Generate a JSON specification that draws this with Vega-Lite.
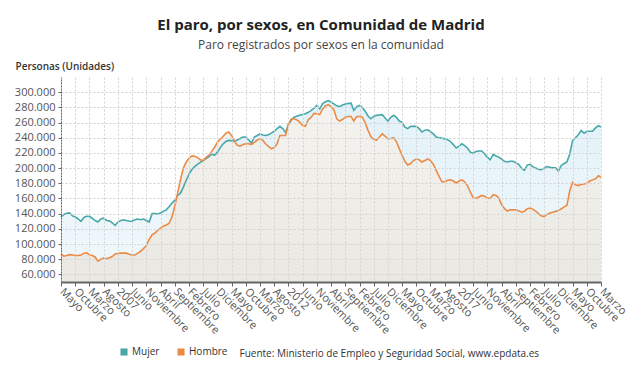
{
"$schema": "https://vega.github.io/schema/vega-lite/v6.json",
"width": 540, "height": 205,
"autosize": {"type": "none"},
"padding": {"left": 61, "top": 77, "right": 39, "bottom": 94},
"background": "white",
"title": {"text": "El paro, por sexos, en Comunidad de Madrid", "subtitle": "Paro registrados por sexos en la comunidad", "anchor": "middle", "frame": "group", "font": "Open Sans", "fontSize": 15, "fontWeight": "bold", "color": "#222222", "subtitleFont": "Open Sans", "subtitleFontSize": 12, "subtitleColor": "#444444", "subtitlePadding": 7, "offset": 10, "dx": -10},
"config": {"view": {"stroke": null}, "font": "Open Sans", "axis": {"labelFont": "Open Sans", "titleFont": "Open Sans"}, "legend": {"labelFont": "Open Sans"}},
"data": {"values": [
{"fecha":"2005-05","Mujer":135500,"Hombre":87000},
{"fecha":"2005-06","Mujer":139000,"Hombre":84000},
{"fecha":"2005-07","Mujer":140500,"Hombre":85000},
{"fecha":"2005-08","Mujer":141000,"Hombre":86000},
{"fecha":"2005-09","Mujer":137000,"Hombre":85500},
{"fecha":"2005-10","Mujer":135500,"Hombre":85000},
{"fecha":"2005-11","Mujer":133000,"Hombre":85000},
{"fecha":"2005-12","Mujer":130000,"Hombre":85500},
{"fecha":"2006-01","Mujer":135000,"Hombre":88000},
{"fecha":"2006-02","Mujer":136500,"Hombre":88500},
{"fecha":"2006-03","Mujer":136500,"Hombre":86000},
{"fecha":"2006-04","Mujer":134000,"Hombre":85000},
{"fecha":"2006-05","Mujer":131000,"Hombre":83000},
{"fecha":"2006-06","Mujer":129000,"Hombre":77500},
{"fecha":"2006-07","Mujer":133000,"Hombre":80000},
{"fecha":"2006-08","Mujer":134000,"Hombre":81500},
{"fecha":"2006-09","Mujer":131000,"Hombre":80500},
{"fecha":"2006-10","Mujer":130500,"Hombre":82000},
{"fecha":"2006-11","Mujer":128000,"Hombre":83500},
{"fecha":"2006-12","Mujer":124500,"Hombre":87000},
{"fecha":"2007-01","Mujer":129000,"Hombre":87500},
{"fecha":"2007-02","Mujer":131000,"Hombre":88000},
{"fecha":"2007-03","Mujer":132000,"Hombre":88000},
{"fecha":"2007-04","Mujer":131000,"Hombre":88000},
{"fecha":"2007-05","Mujer":130000,"Hombre":86500},
{"fecha":"2007-06","Mujer":130000,"Hombre":85500},
{"fecha":"2007-07","Mujer":132000,"Hombre":85500},
{"fecha":"2007-08","Mujer":133000,"Hombre":88000},
{"fecha":"2007-09","Mujer":132000,"Hombre":90500},
{"fecha":"2007-10","Mujer":133000,"Hombre":94000},
{"fecha":"2007-11","Mujer":131000,"Hombre":98000},
{"fecha":"2007-12","Mujer":129000,"Hombre":106000},
{"fecha":"2008-01","Mujer":140000,"Hombre":112000},
{"fecha":"2008-02","Mujer":140000,"Hombre":114500},
{"fecha":"2008-03","Mujer":139500,"Hombre":118000},
{"fecha":"2008-04","Mujer":141000,"Hombre":121000},
{"fecha":"2008-05","Mujer":143000,"Hombre":123500},
{"fecha":"2008-06","Mujer":145000,"Hombre":125000},
{"fecha":"2008-07","Mujer":149000,"Hombre":127000},
{"fecha":"2008-08","Mujer":154000,"Hombre":135500},
{"fecha":"2008-09","Mujer":157500,"Hombre":150000},
{"fecha":"2008-10","Mujer":164000,"Hombre":167000},
{"fecha":"2008-11","Mujer":167000,"Hombre":185000},
{"fecha":"2008-12","Mujer":175000,"Hombre":200000},
{"fecha":"2009-01","Mujer":184000,"Hombre":208000},
{"fecha":"2009-02","Mujer":192000,"Hombre":213000},
{"fecha":"2009-03","Mujer":198000,"Hombre":216000},
{"fecha":"2009-04","Mujer":202000,"Hombre":215500},
{"fecha":"2009-05","Mujer":205000,"Hombre":214000},
{"fecha":"2009-06","Mujer":207500,"Hombre":211000},
{"fecha":"2009-07","Mujer":210000,"Hombre":210000},
{"fecha":"2009-08","Mujer":212500,"Hombre":214000},
{"fecha":"2009-09","Mujer":215000,"Hombre":217000},
{"fecha":"2009-10","Mujer":218500,"Hombre":222000},
{"fecha":"2009-11","Mujer":217000,"Hombre":227500},
{"fecha":"2009-12","Mujer":221000,"Hombre":234000},
{"fecha":"2010-01","Mujer":227000,"Hombre":238000},
{"fecha":"2010-02","Mujer":232000,"Hombre":242000},
{"fecha":"2010-03","Mujer":235000,"Hombre":246000},
{"fecha":"2010-04","Mujer":236500,"Hombre":247500},
{"fecha":"2010-05","Mujer":236000,"Hombre":243000},
{"fecha":"2010-06","Mujer":235500,"Hombre":235500},
{"fecha":"2010-07","Mujer":237000,"Hombre":230000},
{"fecha":"2010-08","Mujer":239000,"Hombre":229000},
{"fecha":"2010-09","Mujer":241000,"Hombre":231000},
{"fecha":"2010-10","Mujer":241000,"Hombre":232000},
{"fecha":"2010-11","Mujer":237000,"Hombre":232000},
{"fecha":"2010-12","Mujer":233000,"Hombre":231000},
{"fecha":"2011-01","Mujer":241000,"Hombre":234000},
{"fecha":"2011-02","Mujer":243000,"Hombre":237000},
{"fecha":"2011-03","Mujer":245000,"Hombre":238500},
{"fecha":"2011-04","Mujer":243500,"Hombre":236500},
{"fecha":"2011-05","Mujer":243000,"Hombre":232000},
{"fecha":"2011-06","Mujer":244000,"Hombre":228500},
{"fecha":"2011-07","Mujer":246000,"Hombre":225500},
{"fecha":"2011-08","Mujer":248500,"Hombre":227000},
{"fecha":"2011-09","Mujer":252000,"Hombre":232000},
{"fecha":"2011-10","Mujer":255000,"Hombre":243000},
{"fecha":"2011-11","Mujer":252000,"Hombre":243000},
{"fecha":"2011-12","Mujer":247000,"Hombre":243000},
{"fecha":"2012-01","Mujer":258000,"Hombre":258000},
{"fecha":"2012-02","Mujer":263000,"Hombre":265000},
{"fecha":"2012-03","Mujer":267000,"Hombre":265000},
{"fecha":"2012-04","Mujer":268500,"Hombre":263500},
{"fecha":"2012-05","Mujer":269500,"Hombre":260500},
{"fecha":"2012-06","Mujer":270500,"Hombre":256000},
{"fecha":"2012-07","Mujer":271500,"Hombre":255000},
{"fecha":"2012-08","Mujer":273500,"Hombre":264000},
{"fecha":"2012-09","Mujer":276000,"Hombre":267000},
{"fecha":"2012-10","Mujer":279000,"Hombre":272000},
{"fecha":"2012-11","Mujer":282500,"Hombre":271500},
{"fecha":"2012-12","Mujer":278000,"Hombre":270500},
{"fecha":"2013-01","Mujer":285000,"Hombre":278000},
{"fecha":"2013-02","Mujer":287500,"Hombre":282000},
{"fecha":"2013-03","Mujer":289000,"Hombre":283500},
{"fecha":"2013-04","Mujer":287000,"Hombre":281000},
{"fecha":"2013-05","Mujer":284500,"Hombre":277000},
{"fecha":"2013-06","Mujer":282000,"Hombre":265000},
{"fecha":"2013-07","Mujer":281000,"Hombre":262000},
{"fecha":"2013-08","Mujer":283000,"Hombre":264000},
{"fecha":"2013-09","Mujer":284500,"Hombre":267000},
{"fecha":"2013-10","Mujer":285000,"Hombre":268000},
{"fecha":"2013-11","Mujer":285500,"Hombre":268000},
{"fecha":"2013-12","Mujer":276000,"Hombre":262000},
{"fecha":"2014-01","Mujer":281000,"Hombre":268000},
{"fecha":"2014-02","Mujer":282500,"Hombre":268000},
{"fecha":"2014-03","Mujer":280000,"Hombre":267500},
{"fecha":"2014-04","Mujer":275000,"Hombre":260000},
{"fecha":"2014-05","Mujer":269000,"Hombre":250000},
{"fecha":"2014-06","Mujer":265000,"Hombre":241500},
{"fecha":"2014-07","Mujer":268000,"Hombre":238000},
{"fecha":"2014-08","Mujer":269500,"Hombre":237000},
{"fecha":"2014-09","Mujer":270000,"Hombre":241000},
{"fecha":"2014-10","Mujer":270500,"Hombre":245000},
{"fecha":"2014-11","Mujer":266000,"Hombre":242000},
{"fecha":"2014-12","Mujer":262000,"Hombre":238500},
{"fecha":"2015-01","Mujer":267000,"Hombre":239000},
{"fecha":"2015-02","Mujer":269500,"Hombre":240000},
{"fecha":"2015-03","Mujer":267000,"Hombre":235000},
{"fecha":"2015-04","Mujer":262000,"Hombre":226000},
{"fecha":"2015-05","Mujer":260500,"Hombre":217000},
{"fecha":"2015-06","Mujer":254000,"Hombre":209000},
{"fecha":"2015-07","Mujer":252000,"Hombre":204000},
{"fecha":"2015-08","Mujer":255000,"Hombre":206000},
{"fecha":"2015-09","Mujer":255000,"Hombre":210000},
{"fecha":"2015-10","Mujer":255000,"Hombre":212000},
{"fecha":"2015-11","Mujer":252000,"Hombre":211000},
{"fecha":"2015-12","Mujer":247500,"Hombre":208000},
{"fecha":"2016-01","Mujer":250000,"Hombre":210000},
{"fecha":"2016-02","Mujer":250500,"Hombre":212000},
{"fecha":"2016-03","Mujer":248000,"Hombre":210000},
{"fecha":"2016-04","Mujer":245000,"Hombre":205000},
{"fecha":"2016-05","Mujer":241000,"Hombre":197000},
{"fecha":"2016-06","Mujer":240000,"Hombre":189000},
{"fecha":"2016-07","Mujer":239500,"Hombre":182000},
{"fecha":"2016-08","Mujer":238500,"Hombre":182000},
{"fecha":"2016-09","Mujer":237500,"Hombre":184000},
{"fecha":"2016-10","Mujer":235000,"Hombre":184500},
{"fecha":"2016-11","Mujer":231000,"Hombre":183000},
{"fecha":"2016-12","Mujer":226500,"Hombre":180500},
{"fecha":"2017-01","Mujer":229000,"Hombre":183000},
{"fecha":"2017-02","Mujer":232000,"Hombre":184500},
{"fecha":"2017-03","Mujer":229500,"Hombre":182000},
{"fecha":"2017-04","Mujer":226500,"Hombre":177000},
{"fecha":"2017-05","Mujer":221000,"Hombre":168500},
{"fecha":"2017-06","Mujer":219500,"Hombre":161000},
{"fecha":"2017-07","Mujer":222000,"Hombre":160000},
{"fecha":"2017-08","Mujer":222500,"Hombre":162000},
{"fecha":"2017-09","Mujer":222500,"Hombre":164000},
{"fecha":"2017-10","Mujer":219000,"Hombre":163000},
{"fecha":"2017-11","Mujer":214000,"Hombre":160500},
{"fecha":"2017-12","Mujer":211000,"Hombre":160000},
{"fecha":"2018-01","Mujer":218000,"Hombre":165000},
{"fecha":"2018-02","Mujer":216000,"Hombre":164000},
{"fecha":"2018-03","Mujer":214500,"Hombre":161000},
{"fecha":"2018-04","Mujer":212000,"Hombre":152000},
{"fecha":"2018-05","Mujer":209000,"Hombre":147000},
{"fecha":"2018-06","Mujer":208000,"Hombre":143500},
{"fecha":"2018-07","Mujer":209000,"Hombre":145000},
{"fecha":"2018-08","Mujer":209000,"Hombre":145000},
{"fecha":"2018-09","Mujer":207000,"Hombre":145000},
{"fecha":"2018-10","Mujer":205000,"Hombre":144000},
{"fecha":"2018-11","Mujer":200000,"Hombre":142000},
{"fecha":"2018-12","Mujer":197000,"Hombre":143000},
{"fecha":"2019-01","Mujer":204000,"Hombre":146500},
{"fecha":"2019-02","Mujer":205000,"Hombre":147500},
{"fecha":"2019-03","Mujer":202000,"Hombre":146000},
{"fecha":"2019-04","Mujer":200000,"Hombre":143500},
{"fecha":"2019-05","Mujer":198500,"Hombre":140000},
{"fecha":"2019-06","Mujer":198000,"Hombre":137000},
{"fecha":"2019-07","Mujer":200000,"Hombre":136500},
{"fecha":"2019-08","Mujer":202000,"Hombre":139000},
{"fecha":"2019-09","Mujer":201000,"Hombre":141000},
{"fecha":"2019-10","Mujer":200500,"Hombre":142000},
{"fecha":"2019-11","Mujer":200500,"Hombre":143000},
{"fecha":"2019-12","Mujer":196000,"Hombre":144000},
{"fecha":"2020-01","Mujer":203500,"Hombre":146500},
{"fecha":"2020-02","Mujer":206000,"Hombre":149000},
{"fecha":"2020-03","Mujer":208000,"Hombre":151000},
{"fecha":"2020-04","Mujer":219000,"Hombre":170500},
{"fecha":"2020-05","Mujer":236500,"Hombre":181500},
{"fecha":"2020-06","Mujer":240000,"Hombre":178000},
{"fecha":"2020-07","Mujer":244000,"Hombre":177000},
{"fecha":"2020-08","Mujer":249500,"Hombre":178500},
{"fecha":"2020-09","Mujer":246000,"Hombre":179000},
{"fecha":"2020-10","Mujer":248500,"Hombre":180000},
{"fecha":"2020-11","Mujer":248500,"Hombre":183000},
{"fecha":"2020-12","Mujer":248500,"Hombre":184500},
{"fecha":"2021-01","Mujer":253000,"Hombre":186000},
{"fecha":"2021-02","Mujer":256000,"Hombre":190000},
{"fecha":"2021-03","Mujer":254000,"Hombre":188000}
]},
"layer": [
{"mark": {"type": "area", "color": {"gradient": "linear", "x1": 0, "y1": 0, "x2": 0, "y2": 1, "stops": [{"offset": 0, "color": "#e2f2f9"}, {"offset": 1, "color": "#f1f8fb"}]}},
 "encoding": {
  "x": {"field": "fecha", "type": "temporal", "title": "Fuente: Ministerio de Empleo y Seguridad Social, www.epdata.es",
   "scale": {"type": "utc", "domain": [{"year": 2005, "month": 5, "date": 1, "utc": true}, {"year": 2021, "month": 3, "date": 1, "utc": true}], "nice": false},
   "axis": {"tickCount": 100, "zindex": 1, "values": [
    {"year":2005,"month":5,"date":1,"utc":true},{"year":2005,"month":10,"date":1,"utc":true},{"year":2006,"month":3,"date":1,"utc":true},{"year":2006,"month":8,"date":1,"utc":true},
    {"year":2007,"month":1,"date":1,"utc":true},{"year":2007,"month":6,"date":1,"utc":true},{"year":2007,"month":11,"date":1,"utc":true},{"year":2008,"month":4,"date":1,"utc":true},
    {"year":2008,"month":9,"date":1,"utc":true},{"year":2009,"month":2,"date":1,"utc":true},{"year":2009,"month":7,"date":1,"utc":true},{"year":2009,"month":12,"date":1,"utc":true},
    {"year":2010,"month":5,"date":1,"utc":true},{"year":2010,"month":10,"date":1,"utc":true},{"year":2011,"month":3,"date":1,"utc":true},{"year":2011,"month":8,"date":1,"utc":true},
    {"year":2012,"month":1,"date":1,"utc":true},{"year":2012,"month":6,"date":1,"utc":true},{"year":2012,"month":11,"date":1,"utc":true},{"year":2013,"month":4,"date":1,"utc":true},
    {"year":2013,"month":9,"date":1,"utc":true},{"year":2014,"month":2,"date":1,"utc":true},{"year":2014,"month":7,"date":1,"utc":true},{"year":2014,"month":12,"date":1,"utc":true},
    {"year":2015,"month":5,"date":1,"utc":true},{"year":2015,"month":10,"date":1,"utc":true},{"year":2016,"month":3,"date":1,"utc":true},{"year":2016,"month":8,"date":1,"utc":true},
    {"year":2017,"month":1,"date":1,"utc":true},{"year":2017,"month":6,"date":1,"utc":true},{"year":2017,"month":11,"date":1,"utc":true},{"year":2018,"month":4,"date":1,"utc":true},
    {"year":2018,"month":9,"date":1,"utc":true},{"year":2019,"month":2,"date":1,"utc":true},{"year":2019,"month":7,"date":1,"utc":true},{"year":2019,"month":12,"date":1,"utc":true},
    {"year":2020,"month":5,"date":1,"utc":true},{"year":2020,"month":10,"date":1,"utc":true},{"year":2021,"month":3,"date":1,"utc":true}],
    "labelExpr": "utcmonth(datum.value) == 0 ? '' + utcyear(datum.value) : ['Enero','Febrero','Marzo','Abril','Mayo','Junio','Julio','Agosto','Septiembre','Octubre','Noviembre','Diciembre'][utcmonth(datum.value)]",
    "labelAngle": 45, "labelAlign": "left", "labelBaseline": "middle", "labelFontSize": 11, "labelColor": "#555555", "labelPadding": 4, "labelOverlap": false, "labelBound": false, "labelFlush": false,
    "grid": true, "gridDash": [2, 2], "gridColor": "#d2d2d2", "gridWidth": 1,
    "domainColor": "#666666", "domainWidth": 2, "tickColor": "#666666", "tickSize": 4,
    "titleX": 178, "titleY": 71, "titleAlign": "left", "titleAnchor": null, "titleBaseline": "middle", "titleFontSize": 10, "titleFontWeight": "normal", "titleColor": "#333333"}},
  "y": {"field": "Mujer", "type": "quantitative", "title": "Personas (Unidades)",
   "scale": {"domain": [50000, 320000], "nice": false, "zero": false},
   "axis": {"tickCount": 100, "zindex": 1, "values": [60000,80000,100000,120000,140000,160000,180000,200000,220000,240000,260000,280000,300000],
    "labelExpr": "replace(format(datum.value, ','), ',', '.')", "labelFontSize": 11, "labelColor": "#555555", "labelPadding": 3,
    "grid": true, "gridDash": [2, 2], "gridColor": "#d2d2d2",
    "domainColor": "#666666", "domainDash": [2, 1], "tickColor": "#666666", "tickSize": 3,
    "titleAngle": 0, "titleAlign": "left", "titleBaseline": "bottom", "titleX": -46, "titleY": -6, "titleFontSize": 10, "titleFontWeight": 600, "titleColor": "#333333"}},
  "y2": {"datum": 50000}
 }},
{"mark": {"type": "area", "color": {"gradient": "linear", "x1": 0, "y1": 0, "x2": 0, "y2": 1, "stops": [{"offset": 0, "color": "#f4f3ef"}, {"offset": 1, "color": "#eae8e2"}]}},
 "encoding": {
  "x": {"field": "fecha", "type": "temporal"},
  "y": {"field": "Hombre", "type": "quantitative", "title": "Personas (Unidades)"},
  "y2": {"datum": 50000}
 }},
{"transform": [{"fold": ["Mujer", "Hombre"], "as": ["sexo", "valor"]}],
 "mark": {"type": "line", "strokeWidth": 1.6},
 "encoding": {
  "x": {"field": "fecha", "type": "temporal"},
  "y": {"field": "valor", "type": "quantitative", "title": "Personas (Unidades)"},
  "color": {"field": "sexo", "type": "nominal", "scale": {"domain": ["Mujer", "Hombre"], "range": ["#46a8aa", "#ec8b45"]},
   "legend": {"orient": "none", "legendX": 58, "legendY": 270, "direction": "horizontal", "title": null, "symbolType": "square", "symbolSize": 50, "symbolStrokeWidth": 0, "labelFontSize": 10, "labelColor": "#333333", "columnPadding": 16, "labelOffset": 3,
    "encode": {"symbols": {"update": {"fill": {"scale": "color", "field": "value"}, "fillOpacity": {"value": 1}, "strokeWidth": {"value": 0}}}}}}
 }}
]
}
